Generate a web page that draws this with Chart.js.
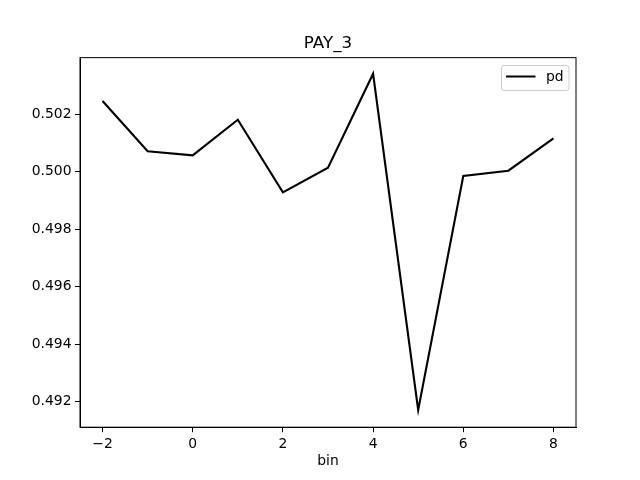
<!DOCTYPE html>
<html>
<head>
<meta charset="utf-8">
<script src="https://cdn.jsdelivr.net/npm/chart.js@4"></script>
<style>
  html, body { margin: 0; padding: 0; background: #fff; }
  #wrap { width: 640px; height: 480px; }
</style>
</head>
<body>
<div id="wrap"><canvas id="pd-chart" width="640" height="480"></canvas></div>
<script>
const bins = [-2, -1, 0, 1, 2, 3, 4, 5, 6, 7, 8];
const pdValues = [0.502459, 0.500710, 0.500570, 0.501809, 0.499283, 0.500139,
                  0.503409, 0.491711, 0.499850, 0.500035, 0.501162];
const xTicks = [-2, 0, 2, 4, 6, 8];
const yTicks = [0.492, 0.494, 0.496, 0.498, 0.500, 0.502];

const FONT = 'DejaVu Sans';

// top/right spines, title centred on the axes, and the boxed legend
const framePlugin = {
    id: 'frame',
    afterLayout(chart) {
        const a = chart.chartArea;
        if (chart.titleBlock) {
            chart.titleBlock.left = a.left;
            chart.titleBlock.right = a.right;
        }
    },
    afterDraw(chart) {
        const ctx = chart.ctx;
        const a = chart.chartArea;
        ctx.save();
        ctx.strokeStyle = '#000';
        ctx.lineWidth = 1;
        ctx.strokeRect(a.left, a.top, a.right - a.left, a.bottom - a.top);

        // legend
        const bx = 501.5, by = 65.5, bw = 67.5, bh = 25;
        ctx.beginPath();
        ctx.roundRect(bx, by, bw, bh, 2.5);
        ctx.fillStyle = 'rgba(255,255,255,0.8)';
        ctx.fill();
        ctx.strokeStyle = '#cccccc';
        ctx.stroke();
        ctx.beginPath();
        ctx.moveTo(506, 76.5);
        ctx.lineTo(535.5, 76.5);
        ctx.strokeStyle = '#000';
        ctx.lineWidth = 2;
        ctx.stroke();
        ctx.fillStyle = '#000';
        ctx.font = '13.9px "' + FONT + '"';
        ctx.textBaseline = 'middle';
        ctx.fillText(chart.data.datasets[0].label, 546, 77);
        ctx.restore();
    }
};

const ctx = document.getElementById('pd-chart').getContext('2d');
new Chart(ctx, {
    type: 'line',
    data: {
        datasets: [{
            label: 'pd',
            data: bins.map((b, i) => ({ x: b, y: pdValues[i] })),
            borderColor: '#000',
            borderWidth: 2.1,
            pointRadius: 0,
            fill: false,
            tension: 0
        }]
    },
    options: {
        responsive: false,
        animation: false,
        devicePixelRatio: 1,
        layout: { padding: { left: 0, right: 64, top: 0, bottom: 0 } },
        plugins: {
            legend: { display: false },
            tooltip: { enabled: false },
            title: {
                display: true,
                text: 'PAY_3',
                color: '#000',
                font: { family: FONT, size: 16.7, weight: 'normal', lineHeight: 1.2 },
                padding: { top: 34, bottom: 3.6 }
            }
        },
        scales: {
            x: {
                type: 'linear',
                min: -2.5,
                max: 8.5,
                afterBuildTicks(scale) { scale.ticks = xTicks.map(v => ({ value: v })); },
                afterFit(scale) { scale.height = 52.8; },
                grid: { drawOnChartArea: false, drawTicks: true, tickLength: 5, color: '#000' },
                border: { display: true, color: '#000', width: 1 },
                ticks: {
                    color: '#000',
                    padding: 3.5,
                    maxRotation: 0,
                    font: { family: FONT, size: 13.9 },
                    callback: v => String(v).replace('-', '\u2212')
                },
                title: {
                    display: true,
                    text: 'bin',
                    color: '#000',
                    font: { family: FONT, size: 13.9 },
                    padding: { top: 0, bottom: 10 }
                }
            },
            y: {
                type: 'linear',
                min: 0.491113,
                max: 0.503969,
                afterBuildTicks(scale) { scale.ticks = yTicks.map(v => ({ value: v })); },
                afterFit(scale) { scale.width = 80; },
                grid: { drawOnChartArea: false, drawTicks: true, tickLength: 5, color: '#000' },
                border: { display: true, color: '#000', width: 1 },
                ticks: {
                    color: '#000',
                    padding: 3.5,
                    font: { family: FONT, size: 13.9 },
                    callback: v => v.toFixed(3)
                }
            }
        }
    },
    plugins: [framePlugin]
});
</script>
</body>
</html>
